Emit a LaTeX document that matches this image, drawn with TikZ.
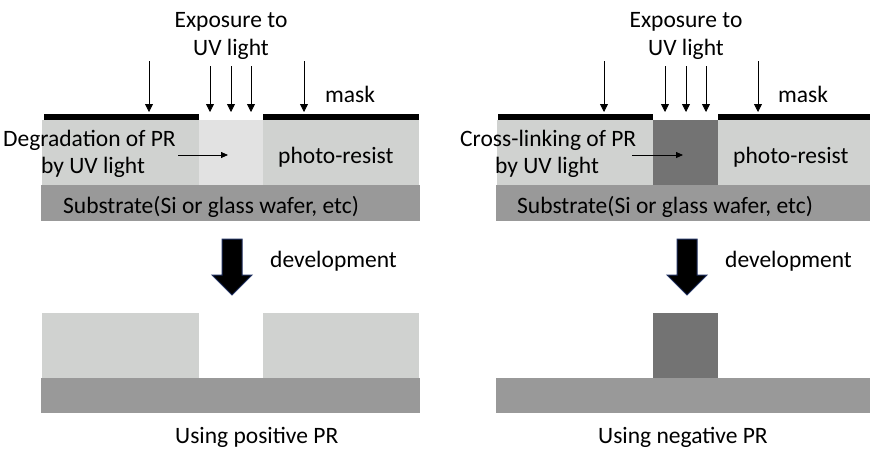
\documentclass[tikz,border=0pt]{standalone}
\usepackage{fontspec}
\setmainfont{Carlito}
\usetikzlibrary{arrows.meta}
\definecolor{resist}{RGB}{208,210,208}
\definecolor{exposed}{RGB}{226,226,226}
\definecolor{linked}{RGB}{115,115,115}
\definecolor{substrate}{RGB}{153,153,153}
\definecolor{outline}{RGB}{32,48,96}
\tikzset{
  uv/.style={-{Triangle[length=8pt,width=8pt]}, line width=0.8pt},
  point/.style={-{Triangle[length=7pt,width=6pt]}, line width=0.8pt},
  lbl/.style={font=\fontsize{23.5}{28}\selectfont, inner sep=0pt, anchor=base west},
  devarrow/.style={fill=black, draw=outline, line width=1pt, line join=miter},
}
\begin{document}
\begin{tikzpicture}[x=1pt,y=-1pt]
  \useasboundingbox (0,0) rectangle (870,450);
  % positive PR, before development
  \fill[substrate] (41,185) rectangle (420,221);
  \fill[resist] (42,120) rectangle (419,185);
  \fill[exposed] (199,120) rectangle (263,185);
  \fill[black] (44,114) rectangle (199,120);
  \fill[black] (263,114) rectangle (419,120);
  % negative PR, before development
  \fill[substrate] (496,185) rectangle (870,221);
  \fill[resist] (497,120) rectangle (870,185);
  \fill[linked] (653,120) rectangle (718,185);
  \fill[black] (498,114) rectangle (653,120);
  \fill[black] (718,114) rectangle (870,120);
  % UV light
  \foreach \x in {149,304,604,758} {
    \coordinate (uvs\x) at (\x,61);
    \coordinate (uve\x) at (\x,112);
    \draw[uv] (uvs\x) -- (uve\x);
  }
  \foreach \x in {210,231,251,665,686,706} {
    \coordinate (uvs\x) at (\x,66);
    \coordinate (uve\x) at (\x,112);
    \draw[uv] (uvs\x) -- (uve\x);
  }
  \node[lbl, anchor=center, align=center] (expL) at (231,36) {Exposure to\\UV light};
  \node[lbl, anchor=center, align=center] (expR) at (686,36) {Exposure to\\UV light};
  \node[lbl] (maskL) at (325,102) {mask};
  \node[lbl] (maskR) at (778,102) {mask};
  \node[lbl] (degrA) at (3,146) {Degradation of PR};
  \node[lbl] (degrB) at (41,173) {by UV light};
  \node[lbl] (crossA) at (460,146) {Cross-linking of PR};
  \node[lbl] (crossB) at (495,173) {by UV light};
  \coordinate (degrS) at (178,155);
  \coordinate (degrE) at (228,155);
  \draw[point] (degrS) -- (degrE);
  \coordinate (crossS) at (632,155);
  \coordinate (crossE) at (683,155);
  \draw[point] (crossS) -- (crossE);
  \node[lbl] (prL) at (278,163) {photo-resist};
  \node[lbl] (prR) at (733,163) {photo-resist};
  \node[lbl] (subL) at (63,213) {Substrate(Si or glass wafer, etc)};
  \node[lbl] (subR) at (517,213) {Substrate(Si or glass wafer, etc)};
  % development
  \draw[devarrow] (222,239) -- (242,239) -- (242,275) -- (252,275) -- (232,295)
    -- (212,275) -- (222,275) -- cycle;
  \draw[devarrow] (677,239) -- (697,239) -- (697,275) -- (707,275) -- (687,295)
    -- (667,275) -- (677,275) -- cycle;
  \node[lbl] (devL) at (270,267) {development};
  \node[lbl] (devR) at (725,267) {development};
  % after development
  \fill[substrate] (41,378) rectangle (420,413);
  \fill[resist] (42,313) rectangle (199,378);
  \fill[resist] (263,313) rectangle (419,378);
  \fill[substrate] (496,378) rectangle (870,413);
  \fill[linked] (653,313) rectangle (718,378);
  \node[lbl] (posPR) at (175,443) {Using positive PR};
  \node[lbl] (negPR) at (598,443) {Using negative PR};
\end{tikzpicture}
\end{document}
